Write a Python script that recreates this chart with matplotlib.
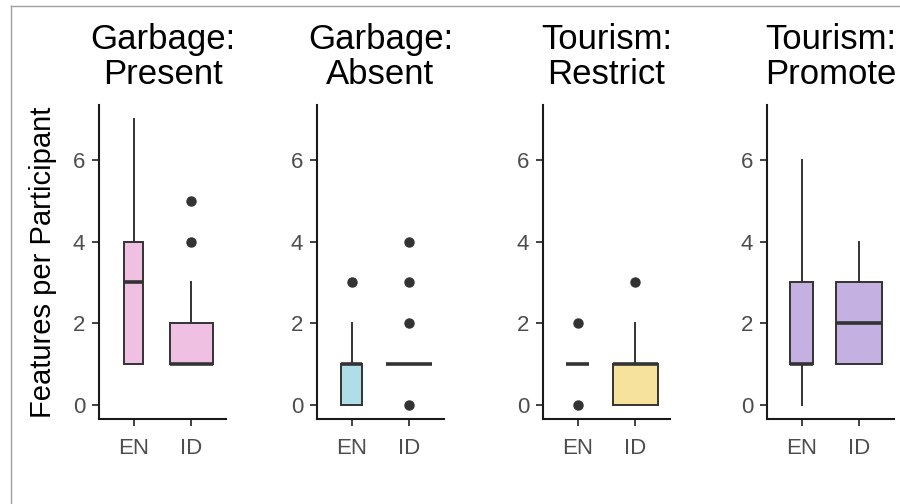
import matplotlib.pyplot as plt
from matplotlib.lines import Line2D

plt.rcParams['font.family'] = ['Liberation Sans', 'DejaVu Sans']

# ---- data: [whislo, q1, median, q3, whishi] and outliers per group
groups = ["EN", "ID"]
titles = ["Garbage:\nPresent", "Garbage:\nAbsent", "Tourism:\nRestrict", "Tourism:\nPromote"]

present_en = [1, 1, 3, 4, 7]
present_en_out = []
present_id = [1, 1, 1, 2, 3]
present_id_out = [4, 5]

absent_en = [0, 0, 1, 1, 2]
absent_en_out = [3]
absent_id = [1, 1, 1, 1, 1]
absent_id_out = [0, 2, 3, 4]

restrict_en = [1, 1, 1, 1, 1]
restrict_en_out = [0, 2]
restrict_id = [0, 0, 1, 1, 2]
restrict_id_out = [3]

promote_en = [0, 1, 1, 3, 6]
promote_en_out = []
promote_id = [1, 1, 2, 3, 4]
promote_id_out = []

y_ticks = [0, 2, 4, 6]
ylabel = "Features per Participant"

panels = [
    (present_en, present_en_out, present_id, present_id_out),
    (absent_en, absent_en_out, absent_id, absent_id_out),
    (restrict_en, restrict_en_out, restrict_id, restrict_id_out),
    (promote_en, promote_en_out, promote_id, promote_id_out),
]

# ---- styling
fills = ["#EFC0E2", "#AEDFE9", "#F6E29C", "#C4B1E2"]
box_widths = [[0.34, 0.74], [0.36, 0.8], [0.4, 0.78], [0.4, 0.8]]
W, H = 900, 504
lefts_px = [99, 317, 543, 767]
width_px = 127
bottom_px, top_px = 419, 105
dark = "#333333"


def to_stats(five, out):
    lo, q1, med, q3, hi = five
    return dict(whislo=lo, q1=q1, med=med, q3=q3, whishi=hi, fliers=out)


fig = plt.figure(figsize=(W / 100, H / 100), dpi=100)

for i, (en, en_out, idn, id_out) in enumerate(panels):
    ax = fig.add_axes([lefts_px[i] / W, (H - bottom_px) / H,
                       width_px / W, (bottom_px - top_px) / H])
    stats = [to_stats(en, en_out), to_stats(idn, id_out)]
    ax.bxp(stats, positions=[1, 2], widths=box_widths[i], patch_artist=True,
           showcaps=False,
           boxprops=dict(facecolor=fills[i], edgecolor=dark, linewidth=1.4),
           medianprops=dict(color=dark, linewidth=2.6, solid_capstyle='butt'),
           whiskerprops=dict(color=dark, linewidth=1.4),
           flierprops=dict(marker='o', markerfacecolor=dark,
                           markeredgecolor=dark, markersize=6.5))
    ax.set_xlim(0.4, 2.6)
    ax.set_ylim(-0.35, 7.35)
    ax.set_yticks(y_ticks)
    ax.set_xticks([1, 2])
    ax.set_xticklabels(groups)
    for s in ['top', 'right']:
        ax.spines[s].set_visible(False)
    for s in ['left', 'bottom']:
        ax.spines[s].set_linewidth(1.5)
        ax.spines[s].set_color('#1a1a1a')
    ax.tick_params(length=5, width=1.3, color=dark, labelsize=16,
                   labelcolor='#4D4D4D')
    ax.tick_params(axis='x', pad=9)
    ax.tick_params(axis='y', pad=5)
    ax.set_title(titles[i], fontsize=25, pad=15, linespacing=1.1)

fig.text(43 / W, 1 - 262 / H, ylabel, rotation=90, fontsize=21,
         ha='center', va='center')

# thin grey frame along top and left edges
fig.add_artist(Line2D([11 / W, 1], [1 - 5.5 / H] * 2,
                      transform=fig.transFigure, color='#A0A0A0', lw=1))
fig.add_artist(Line2D([11 / W] * 2, [0, 1 - 5.5 / H],
                      transform=fig.transFigure, color='#A0A0A0', lw=1))

fig.savefig('out.png', dpi=100)
